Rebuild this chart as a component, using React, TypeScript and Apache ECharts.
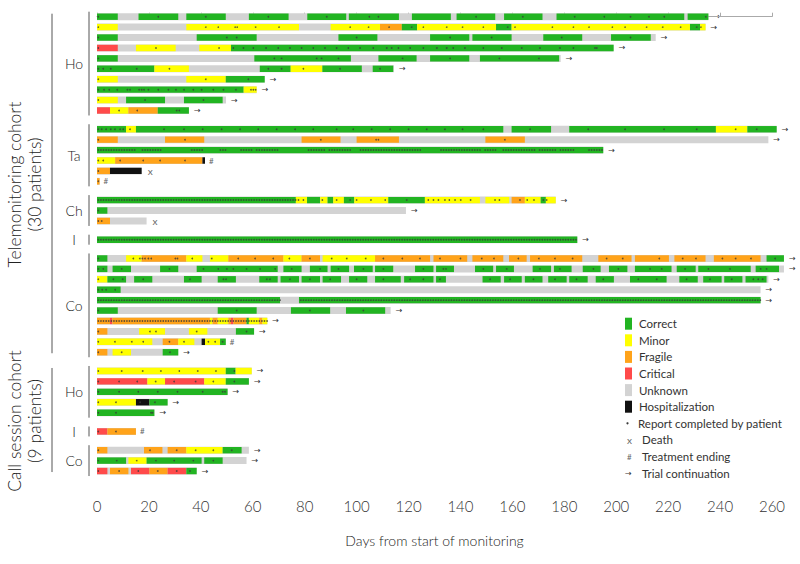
import React, { useEffect, useRef } from 'react';
import * as echarts from 'echarts';

type Seg = [number, number, string];
type Row = [number, Seg[], number[], [number, number][], string];

const STATUS_KEYS = ['G', 'Y', 'O', 'R', 'H'];
const STATUS_FILL = ['#22b422', '#ffff00', '#ffa31a', '#ff4a4a', '#111111'];
const UNKNOWN_FILL = '#d3d3d3';

const LEGEND_LABELS = ['Correct', 'Minor', 'Fragile', 'Critical', 'Unknown', 'Hospitalization'];
const LEGEND_FILLS = ['#22b422', '#ffff00', '#ffa31a', '#ff4a4a', '#d3d3d3', '#111111'];
const LEGEND_MARKS = [
  ['•', 'Report completed by patient'],
  ['x', 'Death'],
  ['#', 'Treatment ending'],
  ['→', 'Trial continuation'],
];

const X_TICKS_MIN = 0;
const X_TICKS_MAX = 260;
const X_TICK_STEP = 20;

const COHORT_LABELS = [
  ['Telemonitoring cohort', '(30 patients)'],
  ['Call session cohort', '(9 patients)'],
];
const GROUP_NAMES = ['Ho', 'Ta', 'Ch', 'I', 'Co', 'Ho', 'I', 'Co'];
const GROUP_COHORT = [0, 0, 0, 0, 0, 1, 1, 1];

// ---- Telemonitoring cohort ----
const teleHo: Row[] = [
  [235.5, [[0, 8, 'G'], [16, 31.3, 'G'], [34.4, 49.6, 'G'], [58.5, 73.8, 'G'], [81, 96, 'G'], [97, 116.3, 'G'], [121.3, 136.3, 'G'], [138.5, 153.4, 'G'], [156.8, 171.6, 'G'], [177, 226.2, 'G'], [227.5, 235.5, 'G']],
    [0.5, 23.6, 41.9, 66, 88.5, 104.9, 108.4, 146, 164, 184, 195.4, 205.5, 212.6, 218.5, 234.5], [], '>'],
  [234.4, [[0, 8, 'Y'], [34.4, 77.8, 'Y'], [90, 109, 'Y'], [109, 117.4, 'O'], [117.4, 123.3, 'G'], [123.3, 153.7, 'Y'], [153.7, 159.7, 'G'], [159.7, 228.4, 'Y'], [228.4, 232.3, 'G'], [232.3, 234.4, 'Y']],
    [0.5, 41.9, 46.7, 53.2, 54, 61.1, 70.1, 97.5, 104.6, 112.5, 121.2, 125.7, 134.7, 140.8, 148.8, 158.2, 161, 175.4, 183.5, 189.5, 198.5, 203.4, 211.7, 217.9, 224.8, 231, 232.6], [], '>'],
  [215.2, [[0, 8, 'G'], [38.4, 61.5, 'G'], [93, 108, 'G'], [128.3, 143.4, 'G'], [144.6, 159.7, 'G'], [171.9, 186.9, 'G'], [198, 213.3, 'G']],
    [0.5, 50, 53.8, 100, 136, 152, 179, 205.5], [], '>'],
  [199, [[0, 8, 'R'], [15, 30.3, 'Y'], [39.4, 51.6, 'Y'], [51.6, 199, 'G']],
    [0.5, 22.7, 47, 52.5, 56.4, 60.2, 65.1, 69.8, 74.3, 78.8, 83.3, 87.8, 92.3, 96.8, 101.3, 106.4, 111.6, 113.5, 116.1, 120.6, 125.7, 130.9, 134.7, 137.2, 141.7, 148.8, 155.9, 163.6, 170.6, 178.3, 183.5, 191.8, 192.5], [], '>'],
  [178.6, [[0, 8, 'G'], [60.6, 97.8, 'G'], [108.4, 123.1, 'G'], [128.3, 143.4, 'G'], [147.5, 178, 'G']],
    [0.5, 68.3, 71.1, 84.6, 86.5, 93, 117.7, 136, 155, 170.2], [], '>'],
  [114.4, [[0, 22.1, 'G'], [22.1, 35.4, 'Y'], [62.7, 74.6, 'G'], [74.6, 86.8, 'Y'], [86.8, 102, 'G'], [106.2, 114.1, 'G']],
    [0.5, 2.4, 5.3, 15.3, 27.9, 66, 71.1, 79.5, 93.6, 109], [], '>'],
  [64.6, [[0, 8, 'Y'], [34.4, 49.6, 'Y'], [49.6, 64.6, 'G']], [0.5, 41.9, 58.3], [], '>'],
  [61.5, [[0, 56.5, 'G'], [56.5, 61.5, 'Y']],
    [0.5, 2.7, 4.7, 7.8, 11.7, 12.7, 16.2, 17.2, 18.1, 19.8, 23.6, 27.5, 30.4, 33.5, 37.1, 40.3, 44.8, 48.7, 53.5, 59.3, 60.2, 61.1], [], '>'],
  [49.7, [[0, 8, 'Y'], [11.2, 26.2, 'G'], [33.5, 48.4, 'G']], [0.5, 18.5, 41], [], '>'],
  [35.4, [[0, 5, 'R'], [5, 12.1, 'Y'], [12.1, 23.4, 'O'], [23.4, 35.4, 'G']], [8.5, 15.5, 30.7, 31.7], [], '>'],
];

const teleTa: Row[] = [
  [261.8, [[0, 11.2, 'G'], [11.2, 15, 'Y'], [15, 156.5, 'G'], [159.7, 174.9, 'G'], [181.9, 238.4, 'G'], [238.4, 250.5, 'Y'], [250.5, 261.8, 'G']],
    [0.5, 1.8, 3.5, 5.3, 6.9, 8.9, 10.1, 12.7, 25.8, 33.5, 40.7, 48, 55.1, 62.1, 69.2, 76.3, 83.3, 92.3, 98.7, 105.8, 112.9, 120, 127, 134, 140.8, 148.8, 166.8, 189.2, 203.4, 218.4, 231, 246, 254.1], [], '>'],
  [258.6, [[0, 8, 'O'], [26.2, 41.3, 'O'], [78.8, 93.8, 'O'], [100, 116.3, 'O'], [149.6, 164.8, 'O']],
    [0.5, 33.9, 86.2, 107.5, 108.4, 157.1], [], '>'],
  [195, [[0, 195, 'G']], [],
    [[0, 14], [17, 24], [36, 40], [47, 49], [55, 59], [61, 69], [81, 87], [89, 97], [101, 124], [132, 147], [149, 153], [156, 168], [170, 176], [178, 183], [189, 194]], '>'],
  [41.6, [[0, 7, 'Y'], [7, 40.6, 'O'], [40.6, 41.6, 'H']], [0.5, 2.4, 8.9, 17.8, 24.3, 33.9], [], '#'],
  [17.2, [[0, 5, 'O'], [5, 17.2, 'H']], [0.5], [], 'x'],
  [1, [[0, 1, 'O']], [0.5], [], '#'],
];

const teleCh: Row[] = [
  [176.7, [[0, 76.6, 'G'], [76.6, 80.9, 'Y'], [80.9, 85.9, 'G'], [86, 88.8, 'Y'], [88.8, 91, 'G'], [91, 95.1, 'Y'], [95.1, 99.1, 'G'], [99.1, 112.2, 'Y'], [112.2, 126.3, 'G'], [126.3, 147.5, 'Y'], [149.6, 158.8, 'Y'], [159.7, 164.8, 'O'], [164.8, 170.9, 'Y'], [170.9, 172.9, 'G'], [172.9, 176.7, 'Y']],
    [77.6, 79.5, 86.8, 92.3, 97.5, 100, 105.5, 111, 119.3, 127.6, 129.6, 131.5, 134, 135.7, 137.9, 140.1, 143.9, 153.3, 155, 162.9, 165.7, 168.3, 171.9, 173.2], [[0, 76]], '>'],
  [119, [[0, 4, 'G']], [0.5], [], '>'],
  [19.1, [[0, 5, 'O']], [0.5, 1.8], [], 'x'],
];

const teleI: Row[] = [
  [185, [[0, 185, 'G']], [], [[0, 184]], '>'],
];

const teleCo: Row[] = [
  [264.6, [[0, 4, 'G'], [11.2, 17.2, 'Y'], [17.2, 34.4, 'O'], [34.4, 40.6, 'Y'], [43.5, 50.6, 'Y'], [50.6, 71.8, 'O'], [71.8, 78.8, 'Y'], [78.8, 85.9, 'O'], [86.9, 107.1, 'Y'], [107.1, 128.3, 'O'], [129.6, 142.6, 'O'], [144.6, 156.5, 'O'], [158.7, 165.5, 'O'], [166.8, 186.9, 'O'], [193.1, 205.9, 'O'], [207.2, 220.3, 'O'], [222.4, 234.4, 'O'], [237.6, 255.6, 'O'], [257.9, 264.6, 'G']],
    [0.5, 14, 16.5, 17.5, 18.5, 19.8, 20.9, 30.2, 31, 36.7, 44.2, 54.4, 60.9, 67.9, 74.1, 82, 90.4, 96.2, 103.5, 110.3, 117.6, 124.4, 132.1, 140, 148.2, 152.9, 162.3, 170.2, 176.4, 183.2, 196.3, 202.5, 216.6, 225.6, 230.7, 240.9, 246, 251.9, 261.2], [], '>'],
  [264.6, [[0, 4, 'G'], [6, 13.1, 'G'], [24.3, 31.3, 'G'], [38.4, 69.6, 'G'], [71.8, 78.8, 'G'], [82, 88.8, 'G'], [90, 97.1, 'G'], [99, 106.2, 'G'], [107.1, 114.1, 'G'], [122.5, 129.6, 'G'], [130.6, 137.5, 'G'], [145.6, 152.6, 'G'], [153.7, 160.6, 'G'], [167.8, 174.9, 'G'], [176, 182.8, 'G'], [187.1, 194, 'G'], [197.2, 204.3, 'G'], [207.2, 221.3, 'G'], [223.3, 230.6, 'G'], [231.6, 251.8, 'G'], [253.7, 262.7, 'G']],
    [0.5, 2.4, 9.5, 27.9, 41, 46.7, 50, 52.5, 57.6, 62.8, 68.6, 75, 85.9, 93, 102.6, 110.3, 125.7, 133.4, 134.4, 148.8, 157.8, 170.6, 178.3, 191.2, 200.8, 213, 217.5, 226.5, 235.5, 243.8, 255.6, 257.9], [], '>'],
  [258.6, [[0, 4, 'Y'], [4, 11.2, 'G'], [14.3, 21.3, 'G'], [33.5, 40.3, 'G'], [46.5, 53.5, 'G'], [62.5, 69.6, 'G'], [70.7, 77.8, 'G'], [78.8, 85.9, 'G'], [86.9, 94, 'G'], [97.1, 104.1, 'G'], [107.1, 117, 'G'], [118.3, 129.6, 'G'], [130.6, 134.4, 'G'], [148.5, 155.5, 'G'], [156.8, 163.6, 'G'], [164.8, 171.6, 'G'], [173.8, 180.9, 'G'], [181.9, 189, 'G'], [192.1, 199.1, 'G'], [205.3, 219.4, 'G'], [224.3, 231.4, 'G'], [233.5, 240.6, 'G'], [241.6, 248.6, 'G'], [249.8, 257.9, 'G']],
    [0.5, 6.3, 9.9, 17.8, 35.8, 48.7, 49.7, 65.4, 66.6, 74.3, 82, 89.8, 100, 110.3, 120.6, 125.7, 132.1, 151.4, 159.1, 168.1, 176.4, 184.7, 195, 208.5, 215.6, 227.1, 236.1, 244.5, 252.8, 254.7, 256.4], [], '>'],
  [255.6, [[0, 9.1, 'G']], [0.5, 2, 3.5, 7], [], '>'],
  [255.6, [[0, 70.5, 'G'], [77.8, 255.6, 'G']], [], [[0, 70], [78, 255]], '>'],
  [113.1, [[0, 8, 'G'], [46.5, 61.5, 'G'], [74.7, 89.8, 'G'], [95.9, 111, 'G']], [0.5, 53.8, 82, 102.6], [], '>'],
  [65.6, [[0, 5, 'O'], [5, 5.9, 'R'], [5.9, 43.5, 'O'], [43.5, 44.5, 'Y'], [44.5, 46.5, 'O'], [46.5, 50.6, 'Y'], [50.6, 51.6, 'O'], [51.6, 52.5, 'R'], [52.5, 57.6, 'O'], [57.6, 58.5, 'G'], [58.5, 62.5, 'Y'], [62.5, 63.7, 'O'], [63.7, 65.6, 'Y']], [], [[0, 65]], '>'],
  [60.5, [[0, 4, 'O'], [16.2, 26.2, 'Y'], [35.4, 42.5, 'Y'], [53.5, 60.5, 'G']], [0.5, 20.4, 22.7, 38.4, 57.6], [], '>'],
  [49.6, [[0, 21.3, 'Y'], [25.3, 31.3, 'O'], [31.3, 37.5, 'Y'], [40.3, 41.6, 'H'], [41.6, 47.4, 'Y'], [47.4, 49.6, 'G']], [0.5, 6.9, 13.4, 17.8, 27.9, 33.5, 42.9, 45.5, 48.4], [], '#'],
  [31.3, [[0, 4, 'O'], [6, 13.1, 'Y'], [25.3, 31.3, 'G']], [0.5, 9.5, 28.1], [], '>'],
];

// ---- Call session cohort ----
const callHo: Row[] = [
  [59.6, [[0, 49.6, 'Y'], [49.6, 53.4, 'G'], [53.4, 59.6, 'Y']], [0.5, 9.5, 17.6, 24.6, 31.7, 38.8, 45.8, 52.9], [], '>'],
  [58.5, [[0, 19.4, 'R'], [19.4, 26.2, 'Y'], [26.2, 41.3, 'R'], [41.3, 49.6, 'Y'], [49.6, 58.5, 'G']], [0.5, 8.5, 15.5, 22.6, 29.7, 38, 44.8, 52.9], [], '>'],
  [50.3, [[0, 50.3, 'G']], [0.5, 8.5, 15.9, 23.4, 31, 40.7, 48.4, 49.3], [], '>'],
  [27.2, [[0, 15, 'Y'], [15, 20.2, 'H'], [20.2, 27.2, 'G']], [0.5, 7.3, 16.6, 22.3], [], '>'],
  [22.1, [[0, 22.1, 'G']], [0.5, 7.3, 20.8, 21.4], [], '>'],
];
const callI: Row[] = [
  [15, [[0, 4, 'R'], [4, 15, 'O']], [0.5, 7.3], [], '#'],
];
const callCo: Row[] = [
  [58.5, [[0, 4, 'O'], [18.1, 25.2, 'O'], [27.2, 34.4, 'O'], [34.4, 48.4, 'Y'], [48.4, 55.7, 'G']], [0.5, 20.4, 30.7, 38, 44.8, 51.9], [], '>'],
  [57.6, [[0, 11.2, 'G'], [12.1, 19.1, 'Y'], [19.1, 40.3, 'G'], [41.3, 48.4, 'G']], [0.5, 7.6, 15.3, 22.7, 29.7, 37.1, 44.8], [], '>'],
  [38.4, [[0, 4, 'R'], [5, 12.1, 'O'], [13.1, 20.2, 'R'], [20.2, 27.2, 'O'], [27.2, 34.4, 'R'], [34.4, 38.4, 'G']], [0.5, 8.5, 15.9, 23.4, 30.7, 35.8], [], '>'],
];

const GROUP_ROWS: Row[][] = [teleHo, teleTa, teleCh, teleI, teleCo, callHo, callI, callCo];

const FONT = 'Lato, "Open Sans", sans-serif';
const GROUP_GAP = 0.8;

export default function App() {
  const ref = useRef<HTMLDivElement>(null);

  useEffect(() => {
    const el = ref.current;
    if (!el) return;
    const chart = echarts.init(el, undefined, { renderer: 'svg' });

    const bgData: number[][] = [];
    const segData: number[][] = [];
    const dotData: number[][] = [];
    const markData: [number, number, string][] = [];
    const groupSlots: { first: number; last: number }[] = [];
    let k = 0;
    GROUP_ROWS.forEach((rows, g) => {
      const first = k + GROUP_GAP * g;
      rows.forEach((row) => {
        const slot = k + GROUP_GAP * g;
        const [end, segs, dots, runs, mark] = row;
        bgData.push([0, end, slot]);
        segs.forEach(([s, e, st]) => segData.push([s, e, slot, STATUS_KEYS.indexOf(st)]));
        dots.forEach((d) => dotData.push([d, slot]));
        runs.forEach(([a, b]) => {
          for (let d = a; d <= b; d++) dotData.push([d + 0.5, slot]);
        });
        markData.push([end, slot, mark]);
        k++;
      });
      groupSlots.push({ first, last: k - 1 + GROUP_GAP * g });
    });

    const option: any = {
      animation: false,
      grid: { left: 97, right: 28, top: 6.28, bottom: 79, containLabel: false },
      xAxis: {
        type: 'value',
        min: X_TICKS_MIN,
        max: X_TICKS_MAX,
        interval: X_TICK_STEP,
        name: 'Days from start of monitoring',
        nameLocation: 'middle',
        nameGap: 48,
        nameTextStyle: { fontFamily: FONT, fontSize: 14, fontWeight: 300, color: '#222' },
        axisLine: { show: true, lineStyle: { color: '#aaa', width: 1 } },
        axisTick: { show: true, inside: true, length: 4, lineStyle: { color: '#aaa' } },
        splitLine: { show: false },
        axisLabel: { fontFamily: FONT, fontSize: 15, fontWeight: 300, color: '#333', margin: 13 },
      },
      yAxis: { type: 'value', min: -1, max: 44.94, inverse: true, show: false },
      series: [
        {
          type: 'custom',
          name: 'bg',
          data: bgData,
          encode: { x: [0, 1], y: 2 },
          z: 1,
          silent: true,
          renderItem: (_p: any, api: any) => {
            const a = api.coord([api.value(0), api.value(2)]);
            const b = api.coord([api.value(1), api.value(2)]);
            return {
              type: 'rect',
              shape: { x: a[0], y: a[1] - 3.5, width: b[0] - a[0], height: 7 },
              style: { fill: UNKNOWN_FILL },
            };
          },
        },
        {
          type: 'custom',
          name: 'segments',
          data: segData,
          encode: { x: [0, 1], y: 2 },
          z: 2,
          silent: true,
          renderItem: (_p: any, api: any) => {
            const a = api.coord([api.value(0), api.value(2)]);
            const b = api.coord([api.value(1), api.value(2)]);
            return {
              type: 'rect',
              shape: { x: a[0], y: a[1] - 3.2, width: Math.max(b[0] - a[0], 1.2), height: 6.4 },
              style: { fill: STATUS_FILL[api.value(3)] },
            };
          },
        },
        {
          type: 'scatter',
          name: 'reports',
          data: dotData,
          symbol: 'circle',
          symbolSize: 1.7,
          itemStyle: { color: '#3a3a3a' },
          z: 3,
          silent: true,
          clip: false,
        },
      ],
    };
    chart.setOption(option);

    const px = (x: number, slot: number) => chart.convertToPixel({ gridIndex: 0 } as any, [x, slot]) as number[];
    const yOf = (slot: number) => px(0, slot)[1];

    const graphics: any[] = [];
    markData.forEach(([end, slot, mark]) => {
      const p = px(end, slot);
      const isArrow = mark === '>';
      graphics.push({
        type: 'text',
        x: p[0] + (isArrow ? 5 : mark === 'x' ? 6 : 4),
        y: p[1],
        silent: true,
        style: {
          text: isArrow ? '→' : mark,
          fill: isArrow ? '#333' : '#666',
          fontSize: isArrow ? 8 : mark === 'x' ? 10 : 8,
          fontFamily: isArrow ? 'DejaVu Sans' : FONT,
          align: 'left',
          verticalAlign: 'middle',
        },
      });
    });
    groupSlots.forEach((gs, g) => {
      const y0 = yOf(gs.first) - 5;
      const y1 = yOf(gs.last) + 5;
      graphics.push({
        type: 'line',
        shape: { x1: 89, y1: y0, x2: 89, y2: y1 },
        style: { stroke: '#555', lineWidth: 1 },
        silent: true,
      });
      graphics.push({
        type: 'text',
        x: 74,
        y: (y0 + y1) / 2,
        style: { text: GROUP_NAMES[g], fontSize: 14, fontWeight: 300, fontFamily: FONT, fill: '#222', align: 'center', verticalAlign: 'middle' },
        silent: true,
      });
    });
    [0, 1].forEach((c) => {
      const idx = GROUP_COHORT.map((v, i) => (v === c ? i : -1)).filter((i) => i >= 0);
      const y0 = yOf(groupSlots[idx[0]].first) - 3;
      const y1 = yOf(groupSlots[idx[idx.length - 1]].last) + 1;
      const mid = (y0 + y1) / 2;
      graphics.push({
        type: 'line',
        shape: { x1: 52, y1: y0, x2: 52, y2: y1 },
        style: { stroke: '#555', lineWidth: 1 },
        silent: true,
      });
      graphics.push({
        type: 'text',
        x: 14,
        y: mid + 1,
        rotation: Math.PI / 2,
        style: { text: COHORT_LABELS[c][0], fontSize: 17.5, fontWeight: 300, fontFamily: FONT, fill: '#222', align: 'center', verticalAlign: 'middle' },
        silent: true,
      });
      graphics.push({
        type: 'text',
        x: 34,
        y: mid + 1,
        rotation: Math.PI / 2,
        style: { text: COHORT_LABELS[c][1], fontSize: 17.5, fontWeight: 300, fontFamily: FONT, fill: '#222', align: 'center', verticalAlign: 'middle' },
        silent: true,
      });
    });
    const legY0 = 323.7;
    const legStep = 16.6;
    LEGEND_LABELS.forEach((lab, i) => {
      const y = legY0 + i * legStep;
      graphics.push({
        type: 'rect',
        shape: { x: 625, y: y - 6, width: 7, height: 12 },
        style: { fill: LEGEND_FILLS[i] },
        silent: true,
      });
      graphics.push({
        type: 'text',
        x: 639,
        y,
        style: { text: lab, fontSize: 11.5, fontFamily: FONT, fill: '#333', align: 'left', verticalAlign: 'middle' },
        silent: true,
      });
    });
    LEGEND_MARKS.forEach(([sym, lab], j) => {
      const y = legY0 + (LEGEND_LABELS.length + j) * legStep;
      if (j === 0) {
        graphics.push({
          type: 'circle',
          shape: { cx: 627.5, cy: y, r: 1.1 },
          style: { fill: '#3a3a3a' },
          silent: true,
        });
      } else {
        graphics.push({
          type: 'text',
          x: j === 3 ? 625 : 627,
          y,
          style: {
            text: sym,
            fontSize: j === 1 ? 10 : 8,
            fontFamily: j === 3 ? 'DejaVu Sans' : FONT,
            fill: j === 3 ? '#333' : '#666',
            align: 'left',
            verticalAlign: 'middle',
          },
          silent: true,
        });
      }
      graphics.push({
        type: 'text',
        x: j === 0 ? 638 : 642,
        y,
        style: { text: lab, fontSize: 11.5, fontFamily: FONT, fill: '#333', align: 'left', verticalAlign: 'middle' },
        silent: true,
      });
    });

    chart.setOption({ graphic: graphics });

    return () => {
      chart.dispose();
    };
  }, []);

  return <div ref={ref} style={{ position: 'absolute', left: 0, top: 0, width: 800, height: 564 }} />;
}
